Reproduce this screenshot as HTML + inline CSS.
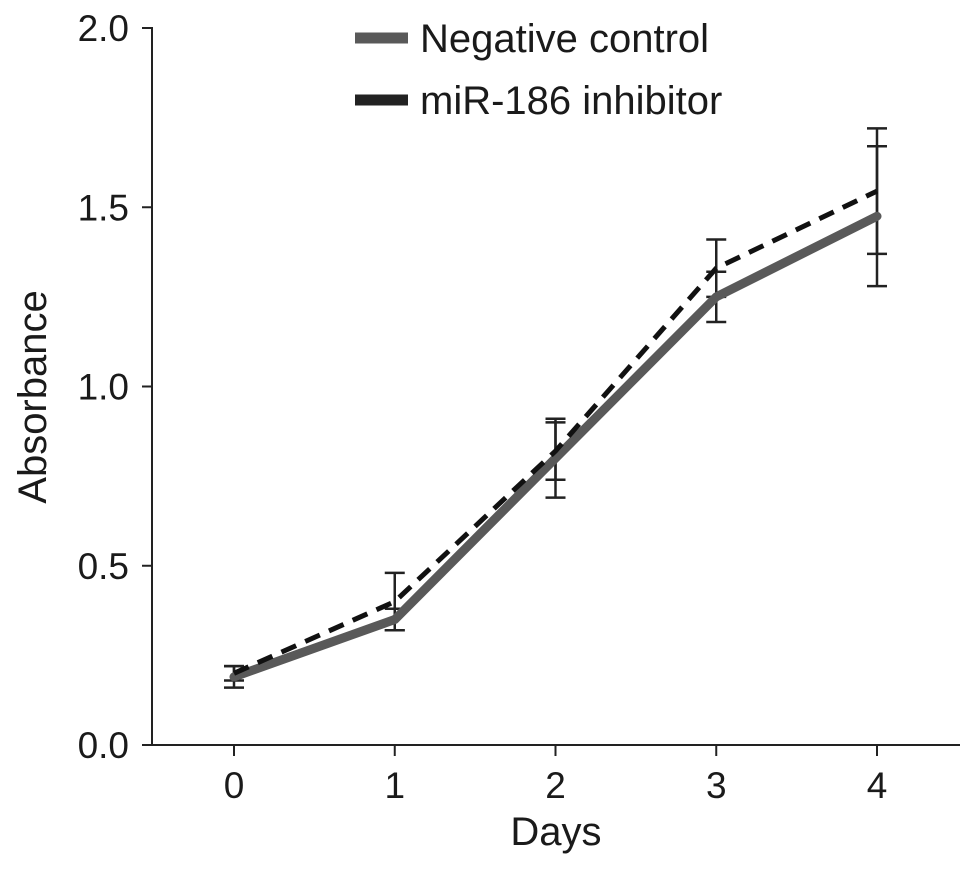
<!DOCTYPE html>
<html><head><meta charset="utf-8"><style>
body{margin:0;background:#fff}
svg text{font-family:"Liberation Sans",Arial,sans-serif;fill:#1a1a1a}
</style></head><body>
<svg id="chart" width="970" height="865" viewBox="0 0 970 865" xmlns="http://www.w3.org/2000/svg">
<g id="axes"></g>
<g id="series"></g>
<g id="legend">
  <line x1="355" y1="38" x2="408" y2="38" stroke="#595959" stroke-width="11"/>
  <text x="420" y="52" font-size="40">Negative control</text>
  <line x1="355" y1="100" x2="408" y2="100" stroke="#222" stroke-width="11"/>
  <text x="420" y="114" font-size="40">miR-186 inhibitor</text>
</g>
</svg>
<script>
const days = [0, 1, 2, 3, 4];
const yTicks = [0.0, 0.5, 1.0, 1.5, 2.0];
const yTickLabels = ["0.0", "0.5", "1.0", "1.5", "2.0"];
const ncValues = [0.19, 0.35, 0.80, 1.25, 1.475];
const ncErrors = [0.03, 0.03, 0.11, 0.07, 0.195];
const inhValues = [0.20, 0.40, 0.82, 1.33, 1.545];
const inhErrors = [0.02, 0.08, 0.08, 0.08, 0.175];

const NS = "http://www.w3.org/2000/svg";
const x = d => 234 + d * 160.75;
const y = v => 745 - v * 358.5;
function mk(tag, attrs, parent) {
  const e = document.createElementNS(NS, tag);
  for (const k in attrs) e.setAttribute(k, attrs[k]);
  parent.appendChild(e);
  return e;
}
const axes = document.getElementById('axes');
const series = document.getElementById('series');

let yl = mk('line', {x1:152, y1:y(2)-1, x2:152, y2:746, stroke:'#222', 'stroke-width':2}, axes);


let xl = mk('line', {x1:151, y1:745, x2:960, y2:745, stroke:'#222', 'stroke-width':2}, axes);



yTicks.forEach((t, i) => {
  const tk = mk('line', {x1:142, y1:y(t), x2:152, y2:y(t), stroke:'#222', 'stroke-width':2}, axes);
  
  
  const lb = mk('text', {x:129, y:y(t)+13, 'font-size':37, 'text-anchor':'end'}, axes);
  lb.textContent = yTickLabels[i];
  
  
});
days.forEach(d => {
  const tk = mk('line', {x1:x(d), y1:745, x2:x(d), y2:756, stroke:'#222', 'stroke-width':2}, axes);
  
  
  const lb = mk('text', {x:x(d), y:798, 'font-size':37, 'text-anchor':'middle'}, axes);
  lb.textContent = String(d);
  
  
});
const yt = mk('text', {x:0, y:0, 'font-size':40, 'text-anchor':'middle', transform:'translate(46,397) rotate(-90)'}, axes);
yt.textContent = 'Absorbance';


const xt = mk('text', {x:556, y:845, 'font-size':40, 'text-anchor':'middle'}, axes);
xt.textContent = 'Days';



function errBars(vals, errs, name) {
  vals.forEach((v, i) => {
    const cx = x(days[i]);
    const g = mk('g', {stroke:'#222', 'stroke-width':2.5}, series);
    
    
    mk('line', {x1:cx, y1:y(v+errs[i]), x2:cx, y2:y(v-errs[i])}, g);
    mk('line', {x1:cx-10, y1:y(v+errs[i]), x2:cx+10, y2:y(v+errs[i])}, g);
    mk('line', {x1:cx-10, y1:y(v-errs[i]), x2:cx+10, y2:y(v-errs[i])}, g);
  });
}
errBars(ncValues, ncErrors, 'negative-control');
errBars(inhValues, inhErrors, 'mir186-inhibitor');

const ncLine = mk('polyline', {points: ncValues.map((v,i)=>x(days[i])+','+y(v)).join(' '), fill:'none', stroke:'#595959', 'stroke-width':9, 'stroke-linejoin':'round', 'stroke-linecap':'round'}, series);


const inhLine = mk('polyline', {points: inhValues.map((v,i)=>x(days[i])+','+y(v)).join(' '), fill:'none', stroke:'#111', 'stroke-width':5, 'stroke-dasharray':'16 10'}, series);


</script>
</body></html>
